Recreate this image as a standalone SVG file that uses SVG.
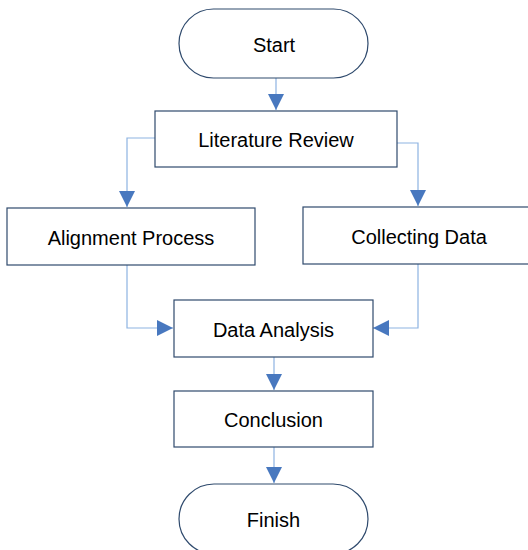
<svg xmlns="http://www.w3.org/2000/svg" width="528" height="550" viewBox="0 0 528 550">
<style>
.box{fill:#fff;stroke:#2f4a6d;stroke-width:1.2}
.t{font-family:"Liberation Sans",Arial,sans-serif;font-size:20px;fill:#000;text-anchor:middle;dominant-baseline:central}
.c{fill:none;stroke:#8db3e2;stroke-width:1.2}
</style>
<defs>
<marker id="ah" viewBox="0 0 10 10" refX="10" refY="5" markerWidth="16" markerHeight="16" markerUnits="userSpaceOnUse" orient="auto">
<path d="M0,0 L10,5 L0,10 Z" fill="#4878bf"/>
</marker>
</defs>
<rect width="528" height="550" fill="#fff"/>
<g id="connectors">
<path class="c" d="M276,78 V110" marker-end="url(#ah)"/>
<path class="c" d="M155,138 H127 V207" marker-end="url(#ah)"/>
<path class="c" d="M397,143 H418 V206" marker-end="url(#ah)"/>
<path class="c" d="M127,265 V328 H173" marker-end="url(#ah)"/>
<path class="c" d="M418,264 V328 H373" marker-end="url(#ah)"/>
<path class="c" d="M274,357 V390" marker-end="url(#ah)"/>
<path class="c" d="M274,447 V483" marker-end="url(#ah)"/>
</g>
<g id="start"><rect class="box" x="179" y="9" width="189" height="69" rx="34.5"/><text class="t" x="274" y="45">Start</text></g>
<g id="literature"><rect class="box" x="155" y="111" width="242" height="56"/><text class="t" x="276" y="140">Literature Review</text></g>
<g id="alignment"><rect class="box" x="7" y="208" width="248" height="57"/><text class="t" x="131" y="238">Alignment Process</text></g>
<g id="collecting"><rect class="box" x="303" y="207" width="228" height="57"/><text class="t" x="419" y="237">Collecting Data</text></g>
<g id="analysis"><rect class="box" x="174" y="300" width="199" height="57"/><text class="t" x="273.5" y="330">Data Analysis</text></g>
<g id="conclusion"><rect class="box" x="174" y="391" width="199" height="56"/><text class="t" x="273.5" y="420">Conclusion</text></g>
<g id="finish"><rect class="box" x="179" y="484" width="189" height="70" rx="35"/><text class="t" x="273.5" y="520">Finish</text></g>
</svg>
